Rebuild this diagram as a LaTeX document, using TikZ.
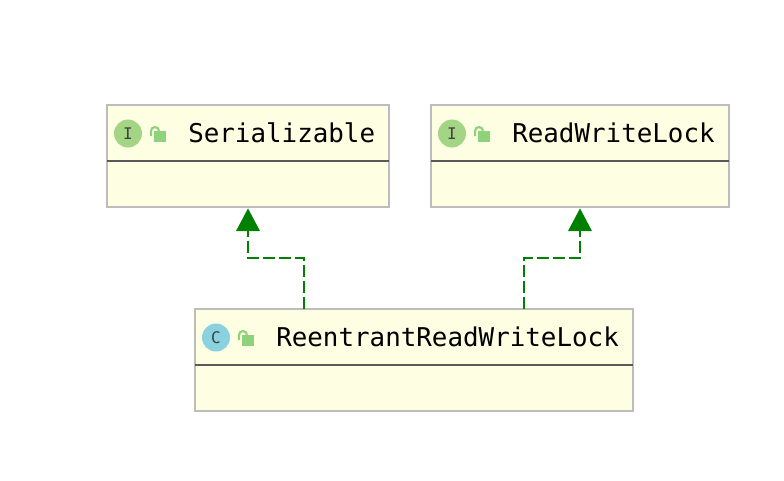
\documentclass[tikz,border=0pt]{standalone}
\usepackage{fontspec}
\setmonofont{DejaVu Sans Mono}
\usetikzlibrary{arrows.meta}
\definecolor{boxfill}{HTML}{FEFEE3}
\definecolor{boxedge}{HTML}{BDBDBD}
\definecolor{rulegrey}{HTML}{595959}
\definecolor{ifacegreen}{HTML}{A3D585}
\definecolor{classblue}{HTML}{8AD2E0}
\definecolor{lockgreen}{HTML}{8FD27C}
\definecolor{depgreen}{HTML}{008000}
\tikzset{
  umlbox/.style={draw=boxedge,fill=boxfill,line width=1.8pt,outer sep=0pt,minimum height=76.5pt},
  umlrule/.style={draw=rulegrey,line width=1.9pt},
  umlname/.style={anchor=base west,inner sep=0pt,font=\ttfamily\fontsize{19.4}{23}\selectfont},
  badge/.style={circle,minimum size=21pt,inner sep=0pt,font=\ttfamily\fontsize{12}{14}\selectfont,text=black!75},
  realize/.style={draw=depgreen,line width=1.8pt,dash pattern=on 9pt off 3pt,shorten >=1pt,-{Triangle[length=17pt,width=17.5pt,fill=depgreen]}},
  pics/lockicon/.style={code={
    \fill[lockgreen] (1.5,-2) rectangle (14,9);
    \draw[lockgreen,line width=1.6pt] (-1,3) -- (-1,-2) arc[start angle=180,end angle=360,radius=4] -- (7,-2);
  }}
}
\begin{document}
\begin{tikzpicture}[x=0.75pt,y=-0.75pt]
  \useasboundingbox (0,0) rectangle (784,480);
  % interfaces
  \node[umlbox,minimum width=211.5pt] (serializable) at (248,156) {};
  \draw[umlrule] (107,161) -- (389,161);
  \node[badge,fill=ifacegreen] (serbadge) at (128,133.5) {I};
  \pic at (152,133) {lockicon};
  \node[umlname] (sername) at (188,142) {Serializable};
  \node[umlbox,minimum width=223.5pt] (readwrite) at (580,156) {};
  \draw[umlrule] (431,161) -- (729,161);
  \node[badge,fill=ifacegreen] (rwbadge) at (452,133.5) {I};
  \pic at (476,133) {lockicon};
  \node[umlname] (rwname) at (512,142) {ReadWriteLock};
  % class
  \node[umlbox,minimum width=328.5pt] (reentrant) at (414,360) {};
  \draw[umlrule] (195,365) -- (633,365);
  \node[badge,fill=classblue] (rebadge) at (216,337.5) {C};
  \pic at (240,337) {lockicon};
  \node[umlname] (rename) at (276,346) {ReentrantReadWriteLock};
  % dependencies
  \draw[realize] ([xshift=-82.5pt]reentrant.north) -- ++(0,-51) -| (serializable.south);
  \draw[realize] ([xshift=82.5pt]reentrant.north) -- ++(0,-51) -| (readwrite.south);
\end{tikzpicture}
\end{document}
